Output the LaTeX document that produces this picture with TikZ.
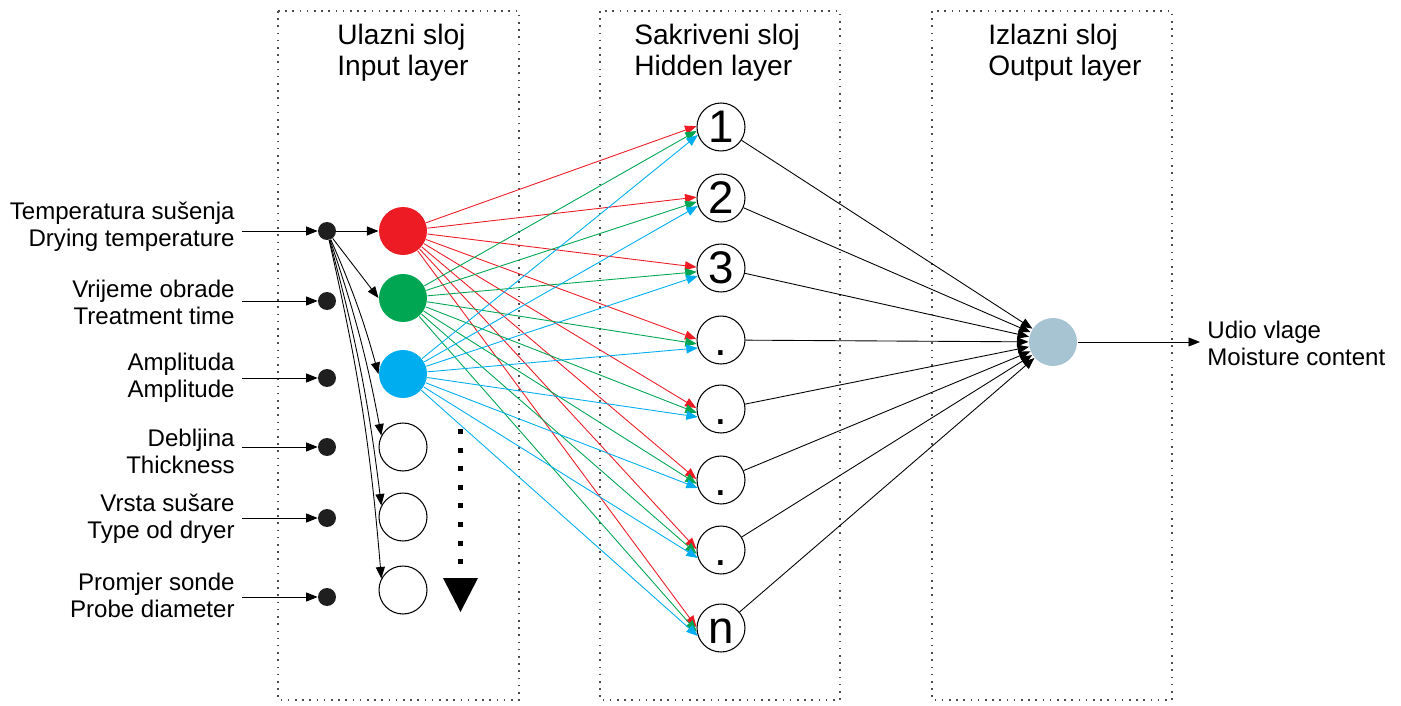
\documentclass[tikz,border=0pt]{standalone}
\usepackage{fontspec}
\setmainfont{Liberation Sans}
\usetikzlibrary{arrows.meta}

\definecolor{nnred}{HTML}{ED1C24}
\definecolor{nngreen}{HTML}{00A651}
\definecolor{nnblue}{HTML}{00AEEF}
\definecolor{nnout}{HTML}{A7C4D3}

\begin{document}
\begin{tikzpicture}[x=0.02cm,y=-0.02cm,
    neuron/.style={circle,draw,line width=0.6pt,minimum size=0.96cm,inner sep=0pt},
    feed/.style={circle,fill=black!88,minimum size=0.36cm,inner sep=0pt},
    layerbox/.style={draw=black!70,line width=0.9pt,dash pattern=on 0.9pt off 3.2pt},
    lbl/.style={font=\fontsize{13.7}{15.4}\selectfont,inner sep=4pt},
    title/.style={font=\fontsize{16}{17.6}\selectfont,align=left,anchor=west,inner sep=0pt},
    conn/.style={-{Triangle[length=2.3mm,width=1.8mm]},line width=0.5pt}]
  \useasboundingbox (0,0) rectangle (1401,706);

  % Layer boxes and titles
  \draw[layerbox] (278,11) rectangle (519,700);
  \draw[layerbox] (600,11) rectangle (840,700);
  \draw[layerbox] (932,11) rectangle (1172,700);
  \node[title] (T-1) at (337,53) {Ulazni sloj\\Input layer};
  \node[title] (T-2) at (634,53) {Sakriveni sloj\\Hidden layer};
  \node[title] (T-3) at (988,53) {Izlazni sloj\\Output layer};

  % Input variables
  \foreach \txt/\ty/\fy [count=\i] in {%
      {Temperatura sušenja\\Drying temperature}/227/231,
      {Vrijeme obrade\\Treatment time}/302/301,
      {Amplituda\\Amplitude}/378/378,
      {Debljina\\Thickness}/451/447,
      {Vrsta sušare\\Type od dryer}/519/518,
      {Promjer sonde\\Probe diameter}/595/597} {
    \node[lbl,align=right,anchor=east] (L-\i) at (242,\ty) {\txt};
    \node[feed] (F-\i) at (327,\fy) {};
    \draw[conn] (L-\i.east |- F-\i) -- (F-\i);
  }

  % Input layer
  \foreach \y/\c [count=\i] in {231/nnred,298/nngreen,374/nnblue}
    \node[neuron,fill=\c,draw=none] (I-\i) at (403,\y) {};
  \foreach \y [count=\i from 4] in {447,517,590}
    \node[neuron] (I-\i) at (403,\y) {};
  \draw[conn] (F-1) -- (I-1);
  \draw[conn] (F-1) -- (I-2.west);
  \draw[conn] (F-1) to[bend left=4] (I-3.west);
  \foreach \i in {4,5,6}
    \draw[conn] (F-1) to[bend left=4] (I-\i.152);

  % More inputs
  \draw[line width=2.8pt,dash pattern=on 2.8pt off 7.8pt] (460.5,429) -- (460.5,566);
  \fill (443,578) -- (478,578) -- (460.5,612) -- cycle;

  % Hidden layer
  \foreach \y/\t [count=\i] in {127/1,198/2,268/3,340/.,409/.,480/.,550/.,628/n}
    \node[neuron,font=\fontsize{26}{26}\selectfont] (H-\i) at (721,\y) {\vphantom{1}\t};

  % Input to hidden
  \foreach \s/\c/\a in {1/nnred/178,2/nngreen/189,3/nnblue/199}
    \foreach \d in {1,...,8}
      \draw[conn,\c] (I-\s) -- (H-\d.\a);

  % Output layer
  \node[neuron,fill=nnout,draw=none] (O) at (1053,342) {};
  \foreach \d in {1,...,8}
    \draw[conn] (H-\d) -- (O);
  \node[lbl,align=left,anchor=west] (M) at (1200,343) {Udio vlage\\Moisture content};
  \draw[conn] (O) -- (M.west |- O);
\end{tikzpicture}
\end{document}
